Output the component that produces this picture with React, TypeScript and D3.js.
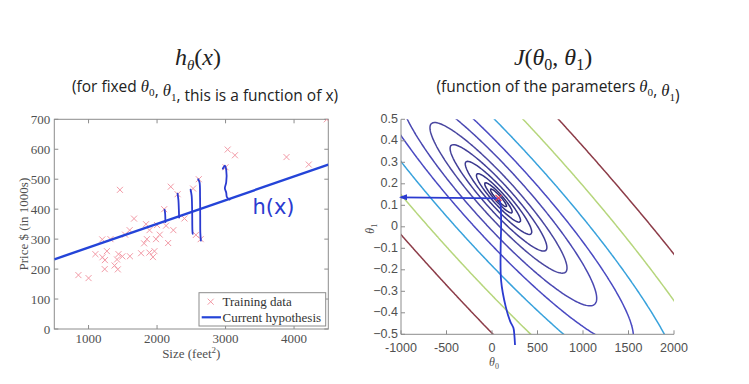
import React from 'react';
import * as d3 from 'd3';

// housing training data (size in feet^2, price in $1000s)
const sizes = [2104, 1600, 2400, 1416, 3000, 1985, 1534, 1427, 1380, 1494, 1940, 2000, 1890, 4478, 1268, 2300, 1320, 1236, 2609, 3031, 1767, 1888, 1604, 1962, 3890, 1100, 1458, 2526, 2200, 2637, 1839, 1000, 2040, 3137, 1811, 1437, 1239, 2132, 4215, 2162, 1664, 2238, 2567, 1200, 852, 1852, 1203];
const prices = [399.9, 329.9, 369.0, 232.0, 539.9, 299.9, 314.9, 199.0, 212.0, 242.5, 240.0, 347.0, 330.0, 699.9, 259.9, 449.9, 299.9, 199.9, 500.0, 599.0, 252.9, 255.0, 242.9, 259.9, 573.9, 249.9, 464.5, 469.0, 475.0, 299.9, 349.9, 169.9, 314.9, 579.9, 285.9, 249.9, 229.9, 345.0, 549.0, 287.0, 368.5, 329.9, 314.0, 299.0, 179.9, 299.9, 239.5];

// current hypothesis drawn on the left
const hypTheta0 = 193;
const hypTheta1 = 0.079;

const sizeTicks = [1000, 2000, 3000, 4000];
const priceTicks = [0, 100, 200, 300, 400, 500, 600, 700];
const theta0Ticks = [-1000, -500, 0, 500, 1000, 1500, 2000];
const theta1Ticks = [-0.5, -0.4, -0.3, -0.2, -0.1, 0, 0.1, 0.2, 0.3, 0.4, 0.5];

// contour levels of J and their colours
const levels = [2600, 3600, 6000, 11000, 21000, 40000, 80000, 149000, 280000, 545000, 1010000];
const levelColors = ['#2c2a78', '#302e80', '#353388', '#3b398f', '#423f98', '#4a47a0', '#4a48b2', '#4a4ac2', '#38a2dc', '#b6d67c', '#8c3c48'];

// hand-drawn annotations (data coordinates)
const residualStrokes = [
  [[2110, 398], [2118, 385], [2122, 357]],
  [[2300, 452], [2312, 430], [2318, 400], [2322, 372]],
  [[2490, 465], [2505, 445], [2512, 400], [2516, 330], [2520, 318]],
  [[2600, 500], [2620, 490], [2628, 440], [2630, 380], [2632, 320], [2640, 295]],
];
const bracketStroke = [[2960, 535], [2990, 545], [3010, 530], [3010, 490], [2990, 470], [3010, 455], [3020, 440], [3060, 432]];
const descentH = [[-1000, 0.137], [80, 0.132]];
const descentV = [[80, 0.133], [95, 0.1], [100, 0.0], [95, -0.1], [100, -0.25], [150, -0.37], [200, -0.44], [235, -0.47], [245, -0.5], [253, -0.55]];

const W = 749, H = 384;
const L = { left: 54.3, right: 328.3, top: 119.3, bottom: 329 };
const R = { left: 401, right: 674, top: 119.3, bottom: 334.3 };

const serif = '"Liberation Serif", "Times New Roman", serif';
const sans = '"Liberation Sans", Arial, sans-serif';
const body = '"Open Sans", Lato, sans-serif';

function Theta({ sub, size }: { sub: string; size: number }) {
  return (
    <>
      <tspan fontFamily={serif} fontStyle="italic" fontSize={size * 1.08}>θ</tspan>
      <tspan fontFamily={serif} fontSize={size * 0.72} dy={size * 0.28}>{sub}</tspan>
      <tspan dy={-size * 0.28}></tspan>
    </>
  );
}

export default function App() {
  const xL = d3.scaleLinear().domain([500, 4500]).range([L.left, L.right]);
  const yL = d3.scaleLinear().domain([0, 700]).range([L.bottom, L.top]);
  const xR = d3.scaleLinear().domain([-1000, 2000]).range([R.left, R.right]);
  const yR = d3.scaleLinear().domain([-0.5, 0.5]).range([R.bottom, R.top]);

  const lineL = d3.line<number[]>().x(d => xL(d[0])).y(d => yL(d[1])).curve(d3.curveCatmullRom);
  const lineR = d3.line<number[]>().x(d => xR(d[0])).y(d => yR(d[1])).curve(d3.curveCatmullRom);

  // cost function J(theta0, theta1) from the training data
  const m = sizes.length;
  const Sx = d3.sum(sizes), Sy = d3.sum(prices);
  const Sxx = d3.sum(sizes, v => v * v);
  const Syy = d3.sum(prices, v => v * v);
  const Sxy = d3.sum(sizes, (v, i) => v * prices[i]);
  const J = (a: number, b: number) =>
    (m * a * a + b * b * Sxx + Syy + 2 * a * b * Sx - 2 * a * Sy - 2 * b * Sxy) / (2 * m);
  const bestB = (m * Sxy - Sx * Sy) / (m * Sxx - Sx * Sx);
  const bestA = (Sy - bestB * Sx) / m;

  const nx = 260, ny = 220;
  const gx0 = -1300, gx1 = 2300, gy0 = -0.65, gy1 = 0.65;
  const sx = (gx1 - gx0) / (nx - 1), sy = (gy1 - gy0) / (ny - 1);
  const grid: number[] = new Array(nx * ny);
  for (let j = 0; j < ny; j++) {
    for (let i = 0; i < nx; i++) grid[i + j * nx] = J(gx0 + i * sx, gy0 + j * sy);
  }
  const contours = d3.contours().size([nx, ny]).thresholds(levels)(grid);
  const contourPath = (c: any) =>
    c.coordinates
      .map((poly: number[][][]) =>
        poly
          .map(ring =>
            'M' + ring.map(p => `${xR(gx0 + (p[0] - 0.5) * sx).toFixed(2)},${yR(gy0 + (p[1] - 0.5) * sy).toFixed(2)}`).join('L') + 'Z'
          )
          .join('')
      )
      .join('');

  const tick = 4;
  const axisGray = '#8c8c8c';
  const labelGray = '#505050';
  const ink = '#2b3bd0';

  return (
    <svg width={W} height={H} style={{ position: 'absolute', left: 0, top: 0, background: '#fff' }}>
      <defs>
        <clipPath id="clipL"><rect x={L.left} y={L.top} width={L.right - L.left} height={L.bottom - L.top} /></clipPath>
        <clipPath id="clipR"><rect x={R.left} y={R.top} width={R.right - R.left} height={R.bottom - R.top} /></clipPath>
      </defs>

      {/* titles */}
      <text x={198} y={65} textAnchor="middle" fontFamily={serif} fontSize={24} fill="#222">
        <tspan fontStyle="italic">h</tspan>
        <tspan fontStyle="italic" fontSize={15} dy={5}>θ</tspan>
        <tspan dy={-5}>(</tspan>
        <tspan fontStyle="italic">x</tspan>
        <tspan>)</tspan>
      </text>
      <text x={205} y={92} textAnchor="middle" fontFamily={body} fontSize={15.5} fill="#222">
        <tspan>(for fixed </tspan>
        <Theta sub="0" size={15.5} />
        <tspan>, </tspan>
        <Theta sub="1" size={15.5} />
        <tspan>, this is a function of x)</tspan>
      </text>
      <text x={553} y={65} textAnchor="middle" fontFamily={serif} fontSize={24} fill="#222">
        <tspan fontStyle="italic">J</tspan>
        <tspan>(</tspan>
        <tspan fontStyle="italic">θ</tspan>
        <tspan fontSize={16} dy={5}>0</tspan>
        <tspan dy={-5}>, </tspan>
        <tspan fontStyle="italic">θ</tspan>
        <tspan fontSize={16} dy={5}>1</tspan>
        <tspan dy={-5}>)</tspan>
      </text>
      <text x={558} y={92} textAnchor="middle" fontFamily={body} fontSize={15.5} fill="#222">
        <tspan>(function of the parameters </tspan>
        <Theta sub="0" size={15.5} />
        <tspan>, </tspan>
        <Theta sub="1" size={15.5} />
        <tspan>)</tspan>
      </text>

      {/* ---------- left: hypothesis ---------- */}
      <rect x={L.left} y={L.top} width={L.right - L.left} height={L.bottom - L.top} fill="none" stroke={axisGray} strokeWidth={1} />
      {sizeTicks.map(t => (
        <g key={'sx' + t}>
          <line x1={xL(t)} x2={xL(t)} y1={L.bottom} y2={L.bottom - tick} stroke={axisGray} />
          <line x1={xL(t)} x2={xL(t)} y1={L.top} y2={L.top + tick} stroke={axisGray} />
          <text x={xL(t)} y={L.bottom + 14} textAnchor="middle" fontFamily={serif} fontSize={13} fill={labelGray}>{t}</text>
        </g>
      ))}
      {priceTicks.map(t => (
        <g key={'py' + t}>
          <line x1={L.left} x2={L.left + tick} y1={yL(t)} y2={yL(t)} stroke={axisGray} />
          <line x1={L.right} x2={L.right - tick} y1={yL(t)} y2={yL(t)} stroke={axisGray} />
          <text x={L.left - 4} y={yL(t) + 4.5} textAnchor="end" fontFamily={serif} fontSize={13} fill={labelGray}>{t}</text>
        </g>
      ))}
      <text transform={`translate(28,${(L.top + L.bottom) / 2}) rotate(-90)`} textAnchor="middle" fontFamily={serif} fontSize={13} fill={labelGray}>Price $ (in 1000s)</text>
      <text x={(L.left + L.right) / 2} y={358} textAnchor="middle" fontFamily={serif} fontSize={13} fill={labelGray}>
        Size (feet<tspan fontSize={9} dy={-5}>2</tspan><tspan dy={5}>)</tspan>
      </text>

      <g clipPath="url(#clipL)">
        {sizes.map((s, i) => (
          <path key={'pt' + i}
            d={`M${xL(s) - 3},${yL(prices[i]) - 3}L${xL(s) + 3},${yL(prices[i]) + 3}M${xL(s) - 3},${yL(prices[i]) + 3}L${xL(s) + 3},${yL(prices[i]) - 3}`}
            stroke="#f29aa6" strokeWidth={1} fill="none" />
        ))}
        <line x1={xL(500)} y1={yL(hypTheta0 + hypTheta1 * 500)} x2={xL(4500)} y2={yL(hypTheta0 + hypTheta1 * 4500)} stroke="#2444d8" strokeWidth={2.4} />
        {residualStrokes.map((s, i) => (
          <path key={'rs' + i} d={lineL(s) || ''} fill="none" stroke={ink} strokeWidth={1.8} strokeLinecap="round" />
        ))}
        <path d={lineL(bracketStroke) || ''} fill="none" stroke={ink} strokeWidth={1.8} strokeLinecap="round" />
        <text x={xL(3700)} y={yL(385)} textAnchor="middle" fontFamily='"DejaVu Sans", sans-serif' fontSize={21} fill={ink}>h(x)</text>
      </g>

      {/* legend */}
      <rect x={199} y={292.7} width={126.7} height={33.3} fill="#fff" stroke={axisGray} strokeWidth={1} />
      <path d="M207.7,298.7L213.7,304.7M207.7,304.7L213.7,298.7" stroke="#f29aa6" strokeWidth={1} />
      <text x={222.5} y={306} fontFamily={serif} fontSize={13} fill="#333">Training data</text>
      <line x1={201.7} x2={221} y1={317.3} y2={317.3} stroke="#2444d8" strokeWidth={2.2} />
      <text x={222.5} y={321.5} fontFamily={serif} fontSize={13} fill="#333">Current hypothesis</text>

      {/* ---------- right: cost contours ---------- */}
      <g clipPath="url(#clipR)">
        {contours.map((c, i) => (
          <path key={'c' + i} d={contourPath(c)} fill="none" stroke={levelColors[i]} strokeWidth={1.5} />
        ))}
      </g>
      <line x1={R.left} x2={R.left} y1={R.top} y2={R.bottom} stroke={axisGray} />
      <line x1={R.left} x2={R.right} y1={R.bottom} y2={R.bottom} stroke={axisGray} />
      {theta0Ticks.map(t => (
        <g key={'tx' + t}>
          <line x1={xR(t)} x2={xR(t)} y1={R.bottom} y2={R.bottom - tick} stroke={axisGray} />
          <text x={xR(t)} y={R.bottom + 18} textAnchor="middle" fontFamily={sans} fontSize={12.5} fill={labelGray}>{t}</text>
        </g>
      ))}
      {theta1Ticks.map(t => (
        <g key={'ty' + t}>
          <line x1={R.left} x2={R.left + tick} y1={yR(t)} y2={yR(t)} stroke={axisGray} />
          <text x={R.left - 3} y={yR(t) + 3.5} textAnchor="end" fontFamily={sans} fontSize={12.5} fill={labelGray}>{d3.format('.1~f')(t)}</text>
        </g>
      ))}
      <text transform={`translate(374,${yR(0) + 2}) rotate(-90)`} textAnchor="middle" fontFamily={serif} fontStyle="italic" fontSize={12} fill={labelGray}>
        θ<tspan fontStyle="normal" fontSize={8} dy={3}>1</tspan>
      </text>
      <text x={xR(0) + 2} y={366} textAnchor="middle" fontFamily={serif} fontStyle="italic" fontSize={12} fill={labelGray}>
        θ<tspan fontStyle="normal" fontSize={8} dy={3}>0</tspan>
      </text>

      {/* gradient descent strokes */}
      <path d={lineR(descentH) || ''} fill="none" stroke={ink} strokeWidth={1.8} />
      <path d={`M${xR(-1000) - 2},${yR(0.137)}L${xR(-1000) + 6},${yR(0.137) - 3}L${xR(-1000) + 6},${yR(0.137) + 3}Z`} fill={ink} />
      <path d={lineR(descentV) || ''} fill="none" stroke={ink} strokeWidth={1.8} />
      <path d={`M${xR(bestA) - 3},${yR(bestB) - 3}L${xR(bestA) + 3},${yR(bestB) + 3}M${xR(bestA) - 3},${yR(bestB) + 3}L${xR(bestA) + 3},${yR(bestB) - 3}`}
        stroke="#e0405a" strokeWidth={1.3} />
    </svg>
  );
}
